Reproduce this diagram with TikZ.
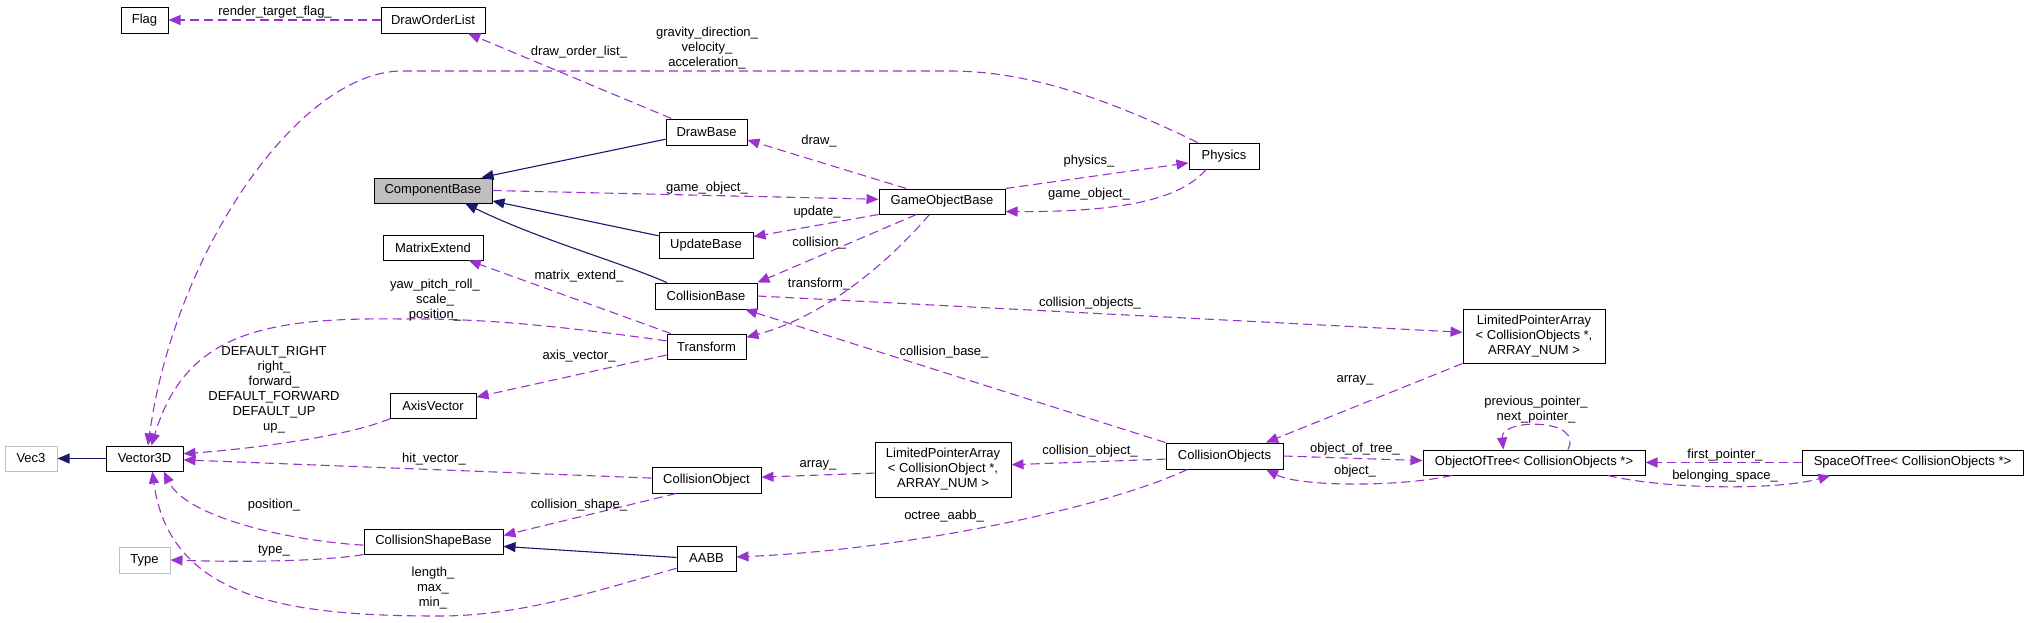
\documentclass[tikz,border=0pt]{standalone}
\usepackage{fontspec}
\setmainfont{Liberation Sans}
\usepackage{xcolor}
\usetikzlibrary{arrows.meta}

\definecolor{edgepurple}{HTML}{9A32CD}
\definecolor{edgenavy}{HTML}{191970}
\definecolor{basegray}{HTML}{BFBFBF}

\tikzset{
  cls/.style={draw=black, line width=1pt, fill=white, inner sep=2pt, minimum height=26pt,
    font=\fontsize{13}{15}\selectfont, align=center},
  clsbase/.style={cls, fill=basegray},
  clsext/.style={cls, draw=basegray},
  inherit/.style={draw=edgenavy, line width=1.1pt, -{Triangle[length=12pt,width=10pt]}},
  uses/.style={draw=edgepurple, line width=1.1pt, dash pattern=on 9pt off 5pt,
    -{Triangle[length=12pt,width=10pt]}},
  lbl/.style={inner sep=0pt, font=\fontsize{13}{15}\selectfont, align=center},
}

\begin{document}
\begin{tikzpicture}[x=1pt, y=-1pt]
        \useasboundingbox (0,0) rectangle (2028,622);
        % classes
        \node[cls, minimum width=47pt] (flag) at (144.5,20) {Flag};
        \node[cls, minimum width=104pt] (dol) at (433,20) {DrawOrderList};
        \node[clsbase, minimum width=118pt, minimum height=25pt] (compbase) at (433,190.5) {ComponentBase};
        \node[cls, minimum width=100pt, minimum height=25pt] (matrix) at (433,247.5) {MatrixExtend};
        \node[cls, minimum width=81pt] (drawbase) at (706.5,132) {DrawBase};
        \node[cls, minimum width=94pt] (updatebase) at (706,245) {UpdateBase};
        \node[cls, minimum width=102pt] (collbase) at (706,296) {CollisionBase};
        \node[cls, minimum width=79pt, minimum height=25pt] (transform) at (706.5,346.5) {Transform};
        \node[cls, minimum width=126pt, minimum height=25pt] (gob) at (942,201.5) {GameObjectBase};
        \node[cls, minimum width=70pt] (physics) at (1224,156) {Physics};
        \node[clsext, minimum width=52pt, minimum height=25pt] (vec) at (31,458.5) {Vec3};
        \node[cls, minimum width=77pt, minimum height=25pt] (vector) at (144.5,458.5) {Vector3D};
        \node[cls, minimum width=86pt, minimum height=25pt] (axis) at (433,405.5) {AxisVector};
        \node[cls, minimum width=139pt, minimum height=25pt] (csb) at (433.5,541.5) {CollisionShapeBase};
        \node[clsext, minimum width=51pt] (type) at (144.5,560) {Type};
        \node[cls, minimum width=109pt] (colobj) at (706.5,480) {CollisionObject};
        \node[cls, minimum width=59pt, minimum height=25pt] (aabb) at (706.5,558.5) {AABB};
        \node[cls, minimum width=136pt, minimum height=55pt] (lpa1) at (943,469.5)
            {LimitedPointerArray\\{}< CollisionObject *,\\ ARRAY\_NUM >};
        \node[cls, minimum width=117pt] (colls) at (1224.5,456) {CollisionObjects};
        \node[cls, minimum width=142pt, minimum height=54pt] (lpa2) at (1534,336)
            {LimitedPointerArray\\{}< CollisionObjects *,\\ ARRAY\_NUM >};
        \node[cls, minimum width=222pt, minimum height=25pt] (oot) at (1534,462.5) {ObjectOfTree< CollisionObjects *>};
        \node[cls, minimum width=221pt, minimum height=25pt] (sot) at (1912.5,462.5) {SpaceOfTree< CollisionObjects *>};

        % inheritance
        \draw[inherit] (drawbase.190) -- (compbase.15);
        \draw[inherit] (updatebase.169) -- (compbase.-10);
        \draw[inherit] (collbase.161) .. controls (620,262) and (540,240) .. (compbase.-22);
        \draw[inherit] (vector.west) -- (vec.east);
        \draw[inherit] (aabb.178) -- (csb.-4);

        % members
        \draw[uses] (dol.west) -- (flag.east);
        \node[lbl] (lflag) at (275,12) {render\_target\_flag\_};
        \draw[uses] (drawbase.159) -- (dol.-21);
        \node[lbl] (ldol) at (579,52) {draw\_order\_list\_};
        \draw[uses] (physics.153) .. controls (1110,100) and (1030,71) .. (950,71) -- (402,71)
            .. controls (300,71) and (175,250) .. (vector.75);
        \node[lbl] (lphysvec) at (707,48) {gravity\_direction\_\\velocity\_\\acceleration\_};
        \draw[uses] (transform.172) .. controls (560,326) and (480,318) .. (402,319)
            .. controls (260,317) and (185,335) .. (vector.62);
        \node[lbl] (ltransvec) at (435,300) {yaw\_pitch\_roll\_\\scale\_\\position\_};
        \draw[uses] (gob.160) -- (drawbase.-11);
        \node[lbl] (ldraw) at (819,141) {draw\_};
        \draw[uses] (compbase.east) -- (gob.178);
        \node[lbl] (lgob1) at (707,188) {game\_object\_};
        \draw[uses] (gob.north east) -- (physics.191);
        \node[lbl] (lphys) at (1089,161) {physics\_};
        \draw[uses] (physics.217) .. controls (1180,200) and (1120,212) .. (gob.-9);
        \node[lbl] (lgob2) at (1089,194) {game\_object\_};
        \draw[uses] (gob.south west) -- (updatebase.10);
        \node[lbl] (lupdate) at (817,212) {update\_};
        \draw[uses] (gob.207) -- (collbase.north east);
        \node[lbl] (lcoll) at (819,243) {collision\_};
        \draw[uses] (gob.226) .. controls (895,255) and (830,315) .. (transform.13);
        \node[lbl] (ltrans) at (819,284) {transform\_};
        \draw[uses] (collbase.east) -- (lpa2.177);
        \node[lbl] (lcolls) at (1090,303) {collision\_objects\_};
        \draw[uses] (transform.160) -- (matrix.-20);
        \node[lbl] (lmatrix) at (579,276) {matrix\_extend\_};
        \draw[uses] (transform.192) -- (axis.11);
        \node[lbl] (laxis) at (579,356) {axis\_vector\_};
        \draw[uses] (axis.197) .. controls (350,436) and (250,449) .. (vector.7);
        \node[lbl] (laxisvec) at (274,389.5) {DEFAULT\_RIGHT\\right\_\\forward\_\\DEFAULT\_FORWARD\\DEFAULT\_UP\\up\_};
        \draw[uses] (colobj.178) -- (vector.-2);
        \node[lbl] (lhit) at (434,459) {hit\_vector\_};
        \draw[uses] (csb.183) .. controls (280,540) and (185,515) .. (vector.-34);
        \node[lbl] (lpos) at (274,505) {position\_};
        \draw[uses] (csb.south west) .. controls (320,562) and (230,562) .. (type.east);
        \node[lbl] (ltype) at (274,551) {type\_};
        \draw[uses] (aabb.198) .. controls (600,590) and (520,616) .. (440,616)
            .. controls (290,616) and (170,600) .. (vector.-59);
        \node[lbl] (llen) at (433,588) {length\_\\max\_\\min\_};
        \draw[uses] (colobj.204) -- (csb.5);
        \node[lbl] (lshape) at (579,505) {collision\_shape\_};
        \draw[uses] (lpa1.183) -- (colobj.3);
        \node[lbl] (larray1) at (818,465) {array\_};
        \draw[uses] (colls.183) -- (lpa1.4);
        \node[lbl] (lcolobj) at (1090,451) {collision\_object\_};
        \draw[uses] (colls.north west) -- (collbase.-19);
        \node[lbl] (lcollbase) at (944,352) {collision\_base\_};
        \draw[uses] (lpa2.south west) -- (colls.18);
        \node[lbl] (larray2) at (1355,380) {array\_};
        \draw[uses] (colls.200) .. controls (1100,510) and (900,550) .. (aabb.3);
        \node[lbl] (laabb) at (944,516) {octree\_aabb\_};
        \draw[uses] (colls.east) -- (oot.179);
        \node[lbl] (loot) at (1355,449) {object\_of\_tree\_};
        \draw[uses] (oot.189) .. controls (1400,487) and (1300,487) .. (colls.-18);
        \node[lbl] (lobject) at (1355,471) {object\_};
        \draw[uses] (oot.21) .. controls (1585,418) and (1500,418) .. (oot.157);
        \node[lbl] (lpointer) at (1536,410) {previous\_pointer\_\\next\_pointer\_};
        \draw[uses] (sot.west) -- (oot.east);
        \node[lbl] (lfirst) at (1725,455) {first\_pointer\_};
        \draw[uses] (oot.-10) .. controls (1670,490) and (1780,490) .. (sot.189);
        \node[lbl] (lspace) at (1725,476) {belonging\_space\_};
\end{tikzpicture}
\end{document}
